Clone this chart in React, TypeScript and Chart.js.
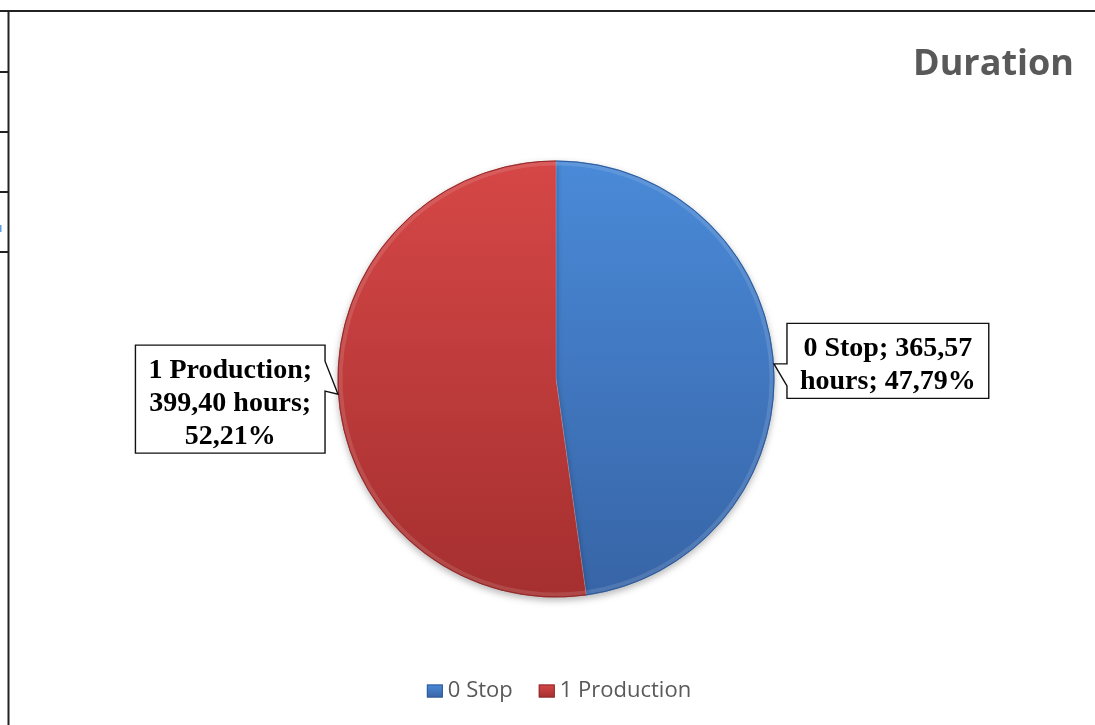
import React, { useEffect, useRef } from "react";
import { Chart, registerables } from "chart.js";

Chart.register(...registerables);

const chartTitle = "Duration";
const categories = ["0 Stop", "1 Production"];
const hours = [365.57, 399.4];
const unitLabel = "hours";
const sliceTop = ["#4a8ad8", "#d64747"];
const sliceBottom = ["#3764a6", "#a52f2f"];
const sliceEdge = ["#2f5a96", "#8e2a2a"];

const fmt = (v: number) => v.toFixed(2).replace(".", ",");

function wrapText(ctx: CanvasRenderingContext2D, text: string, maxW: number): string[] {
  const words = text.split(" ");
  const lines: string[] = [];
  let cur = "";
  for (const w of words) {
    const test = cur ? cur + " " + w : w;
    if (cur && ctx.measureText(test).width > maxW) {
      lines.push(cur);
      cur = w;
    } else cur = test;
  }
  if (cur) lines.push(cur);
  return lines;
}

const framePlugin = {
  id: "frame",
  beforeDraw(chart: any) {
    const ctx = chart.ctx as CanvasRenderingContext2D;
    ctx.save();
    ctx.fillStyle = "#ffffff";
    ctx.fillRect(0, 0, chart.width, chart.height);
    ctx.strokeStyle = "#222222";
    ctx.lineWidth = 2;
    ctx.beginPath();
    ctx.moveTo(0, 11);
    ctx.lineTo(chart.width, 11);
    ctx.moveTo(8.5, 11);
    ctx.lineTo(8.5, chart.height);
    for (const gy of [72, 132, 192, 252]) {
      ctx.moveTo(0, gy);
      ctx.lineTo(8, gy);
    }
    ctx.stroke();
    ctx.fillStyle = "#5aa0e8";
    ctx.fillRect(0, 225, 1.5, 7);
    ctx.restore();
  },
  beforeDatasetsDraw(chart: any) {
    const ctx = chart.ctx as CanvasRenderingContext2D;
    ctx.save();
    ctx.shadowColor = "rgba(0,0,0,0.28)";
    ctx.shadowBlur = 7;
    ctx.shadowOffsetY = 3;
  },
  afterDatasetsDraw(chart: any) {
    const ctx = chart.ctx as CanvasRenderingContext2D;
    ctx.restore();
    const meta = chart.getDatasetMeta(0);
    meta.data.forEach((arc: any, i: number) => {
      const p = arc.getProps(["x", "y", "startAngle", "endAngle", "outerRadius"], true);
      ctx.save();
      ctx.beginPath();
      ctx.arc(p.x, p.y, p.outerRadius - 3, p.startAngle, p.endAngle);
      ctx.strokeStyle = "rgba(255,255,255,0.12)";
      ctx.lineWidth = 4;
      ctx.stroke();
      ctx.beginPath();
      ctx.arc(p.x, p.y, p.outerRadius - 0.5, p.startAngle, p.endAngle);
      ctx.strokeStyle = sliceEdge[i];
      ctx.lineWidth = 1;
      ctx.stroke();
      ctx.restore();
    });
  },
  afterDraw(chart: any) {
    const ctx = chart.ctx as CanvasRenderingContext2D;
    const total = hours.reduce((a, b) => a + b, 0);

    ctx.save();
    ctx.font = "bold 36px 'Open Sans'";
    ctx.fillStyle = "#595959";
    ctx.textAlign = "right";
    ctx.textBaseline = "alphabetic";
    ctx.fillText(chartTitle, 1074, 75);
    ctx.restore();

    const meta = chart.getDatasetMeta(0);
    meta.data.forEach((arc: any, i: number) => {
      const p = arc.getProps(["x", "y", "startAngle", "endAngle", "outerRadius"], true);
      const mid = (p.startAngle + p.endAngle) / 2;
      const ax = p.x + Math.cos(mid) * p.outerRadius;
      const ay = p.y + Math.sin(mid) * p.outerRadius;
      const right = Math.cos(mid) >= 0;
      const pct = (hours[i] / total) * 100;
      const text = `${categories[i]}; ${fmt(hours[i])} ${unitLabel}; ${fmt(pct)}%`;
      ctx.save();
      ctx.font = "bold 28px 'Liberation Serif'";
      const lines = wrapText(ctx, text, 186);
      const maxW = Math.max(...lines.map((l) => ctx.measureText(l).width));
      const lh = 33;
      const bw = maxW + 26;
      const bh = lines.length * lh + 9;
      const cy = ay + (right ? -3 : 5);
      const T = cy - bh / 2;
      const B = T + bh;
      const L = right ? ax + 13 : ax - 13 - bw;
      const R = L + bw;
      const a1 = right ? ay : ay - 33;
      const a2 = right ? ay + 22 : ay - 3;
      ctx.beginPath();
      if (right) {
        ctx.moveTo(L, T);
        ctx.lineTo(R, T);
        ctx.lineTo(R, B);
        ctx.lineTo(L, B);
        ctx.lineTo(L, a2);
        ctx.lineTo(ax, ay);
        ctx.lineTo(L, a1);
      } else {
        ctx.moveTo(L, T);
        ctx.lineTo(R, T);
        ctx.lineTo(R, a1);
        ctx.lineTo(ax, ay);
        ctx.lineTo(R, a2);
        ctx.lineTo(R, B);
        ctx.lineTo(L, B);
      }
      ctx.closePath();
      ctx.fillStyle = "#ffffff";
      ctx.fill();
      ctx.strokeStyle = "#111111";
      ctx.lineWidth = 1.4;
      ctx.stroke();
      ctx.fillStyle = "#000000";
      ctx.textAlign = "center";
      ctx.textBaseline = "alphabetic";
      lines.forEach((ln, k) => {
        ctx.fillText(ln, (L + R) / 2, T + 32.5 + lh * k);
      });
      ctx.restore();
    });

    ctx.save();
    ctx.font = "22px 'Open Sans'";
    const mw = 16, mh = 13, gap = 5, itemGap = 26;
    const widths = categories.map((c) => mw + gap + ctx.measureText(c).width);
    const totalW = widths.reduce((a, b) => a + b, 0) + itemGap * (categories.length - 1);
    let x = 559 - totalW / 2;
    const ly = 691;
    categories.forEach((c, i) => {
      const g = ctx.createLinearGradient(0, ly - mh / 2, 0, ly + mh / 2);
      g.addColorStop(0, sliceTop[i]);
      g.addColorStop(1, sliceBottom[i]);
      ctx.fillStyle = g;
      ctx.fillRect(x, ly - mh / 2, mw, mh);
      ctx.strokeStyle = sliceEdge[i];
      ctx.lineWidth = 1;
      ctx.strokeRect(x + 0.5, ly - mh / 2 + 0.5, mw - 1, mh - 1);
      ctx.fillStyle = "#595959";
      ctx.textAlign = "left";
      ctx.textBaseline = "middle";
      ctx.fillText(c, x + mw + gap, ly);
      x += widths[i] + itemGap;
    });
    ctx.restore();
  },
};

export default function App() {
  const ref = useRef<HTMLCanvasElement | null>(null);
  useEffect(() => {
    document.body.style.margin = "0";
    const canvas = ref.current!;
    const chart = new Chart(canvas, {
      type: "pie",
      data: {
        labels: categories,
        datasets: [
          {
            data: hours,
            backgroundColor: (c: any) => {
              const i = c.dataIndex;
              const area = c.chart.chartArea;
              if (!area) return sliceTop[i];
              const g = c.chart.ctx.createLinearGradient(0, area.top, 0, area.bottom);
              g.addColorStop(0, sliceTop[i]);
              g.addColorStop(1, sliceBottom[i]);
              return g;
            },
            borderColor: "rgba(255,255,255,0.15)",
            borderWidth: 1,
          },
        ],
      },
      options: {
        responsive: false,
        animation: false,
        devicePixelRatio: 1,
        layout: { padding: { left: 256, right: 239, top: 160, bottom: 127 } },
        plugins: {
          legend: { display: false },
          title: { display: false },
          tooltip: { enabled: false },
        },
      },
      plugins: [framePlugin],
    });
    return () => chart.destroy();
  }, []);
  return (
    <div style={{ position: "absolute", left: 0, top: 0, width: 1095, height: 725, background: "#fff" }}>
      <canvas ref={ref} width={1095} height={725} style={{ display: "block" }} />
    </div>
  );
}
